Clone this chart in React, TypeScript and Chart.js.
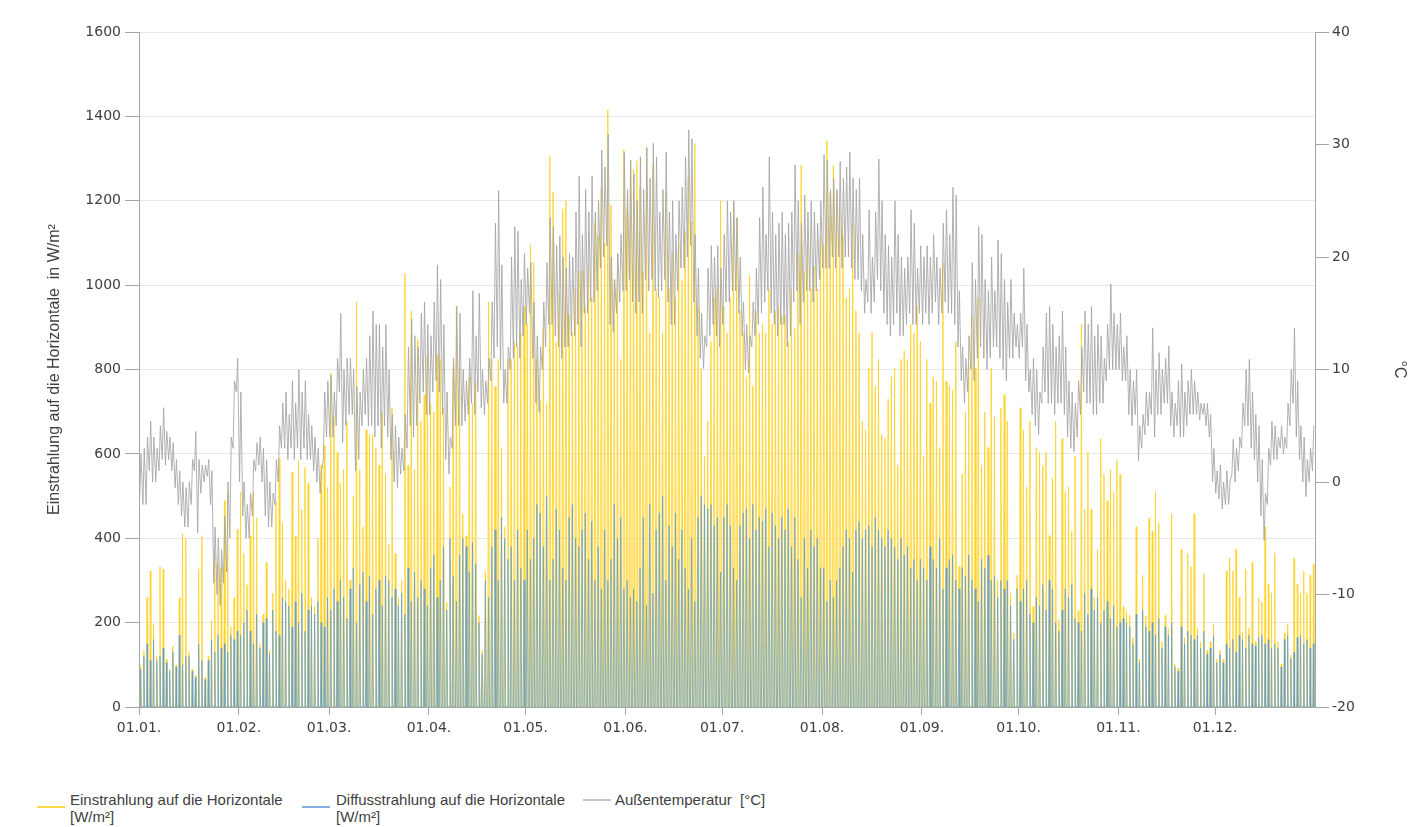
import React, { useEffect, useRef } from "react";
import { Chart, registerables } from "chart.js";

Chart.register(...registerables);

// ---- categories / tick labels ----
const monthStarts = [0, 31, 59, 90, 120, 151, 181, 212, 243, 273, 304, 334];
const monthLabels = ["01.01.", "01.02.", "01.03.", "01.04.", "01.05.", "01.06.", "01.07.", "01.08.", "01.09.", "01.10.", "01.11.", "01.12."];
const yearDays = 365;
// sunrise / sunset (hour of day, standard time) per month
const sunriseHour = [8.1, 7.5, 6.6, 5.5, 4.6, 4.1, 4.3, 5.0, 5.8, 6.6, 7.4, 8.0];
const sunsetHour = [16.4, 17.2, 18.0, 18.9, 19.8, 20.4, 20.4, 19.7, 18.6, 17.5, 16.5, 16.1];

// ---- daily peak of global horizontal irradiance [W/m²] ----
const globalJan = [100, 134, 260, 322, 197, 120, 332, 327, 113, 90, 144, 100, 259, 411, 400, 130, 90, 75, 327, 406, 70, 120, 207, 364, 340, 330, 489, 510, 190, 260, 421];
const globalFeb = [510, 364, 290, 406, 510, 448, 150, 220, 343, 134, 270, 489, 589, 437, 300, 280, 557, 406, 584, 468, 568, 530, 260, 240, 400, 573, 620, 520];
const globalMar = [792, 688, 604, 531, 563, 678, 301, 500, 960, 563, 427, 657, 646, 646, 615, 573, 699, 552, 385, 709, 364, 259, 300, 1028, 573, 939, 563, 871, 678, 740, 835];
const globalApr = [720, 699, 835, 824, 709, 249, 521, 803, 950, 803, 458, 406, 782, 720, 772, 217, 134, 322, 960, 824, 760, 824, 615, 427, 824, 824, 866, 855, 887, 950];
const globalMay = [908, 1096, 1054, 824, 730, 900, 720, 1305, 1221, 866, 980, 1180, 1200, 929, 887, 991, 1033, 1033, 950, 1054, 970, 1148, 1117, 1232, 1100, 1415, 1190, 1012, 1075, 824, 1321];
const globalJun = [1180, 1263, 1274, 1295, 1232, 1033, 1328, 887, 1284, 991, 970, 887, 1221, 991, 1075, 970, 1096, 1012, 1127, 1253, 1150, 1336, 950, 803, 594, 678, 866, 970, 991, 1200];
const globalJul = [950, 887, 970, 1200, 1159, 939, 887, 782, 1023, 761, 939, 887, 908, 887, 991, 908, 939, 950, 929, 929, 866, 991, 897, 1075, 1284, 1033, 1096, 991, 1044, 991, 1117];
const globalAug = [1096, 1342, 1221, 1284, 1221, 1180, 1117, 970, 991, 1148, 939, 887, 678, 657, 803, 887, 761, 824, 646, 636, 730, 782, 803, 573, 824, 845, 824, 908, 887, 950, 866];
const globalSep = [594, 824, 720, 782, 772, 615, 1054, 772, 761, 751, 866, 333, 552, 699, 814, 929, 803, 970, 573, 699, 615, 803, 688, 301, 709, 740, 678, 270, 176, 312];
const globalOct = [709, 657, 521, 678, 238, 615, 604, 573, 604, 406, 542, 678, 207, 636, 510, 521, 416, 594, 228, 908, 469, 604, 469, 259, 374, 636, 552, 489, 563, 510, 584];
const globalNov = [552, 238, 228, 217, 165, 427, 113, 312, 217, 448, 416, 510, 437, 155, 217, 186, 458, 102, 92, 374, 165, 364, 333, 458, 186, 155, 317, 134, 155, 197];
const globalDec = [113, 134, 113, 322, 353, 322, 374, 259, 176, 327, 186, 343, 155, 259, 249, 427, 291, 270, 364, 155, 102, 176, 197, 123, 353, 291, 270, 322, 270, 312, 338];

// ---- daily peak of diffuse horizontal irradiance [W/m²] ----
const diffuseJan = [90, 120, 150, 110, 160, 110, 120, 140, 105, 85, 130, 95, 170, 100, 120, 120, 85, 70, 150, 110, 65, 110, 160, 130, 170, 140, 150, 130, 170, 160, 180];
const diffuseFeb = [170, 200, 230, 180, 150, 220, 140, 200, 210, 125, 230, 180, 170, 260, 250, 240, 190, 250, 200, 270, 180, 230, 240, 220, 250, 200, 190, 260];
const diffuseMar = [230, 280, 250, 300, 260, 210, 280, 330, 200, 290, 320, 250, 310, 220, 280, 300, 240, 310, 300, 260, 280, 240, 270, 220, 330, 250, 320, 260, 300, 280, 240];
const diffuseApr = [330, 360, 260, 300, 380, 230, 400, 310, 250, 360, 400, 380, 320, 390, 340, 200, 125, 300, 260, 380, 420, 300, 450, 400, 350, 380, 300, 420, 330, 300];
const diffuseMay = [420, 350, 400, 480, 460, 380, 500, 300, 350, 470, 420, 330, 300, 450, 480, 400, 380, 420, 460, 350, 440, 300, 380, 280, 420, 300, 350, 480, 400, 450, 280];
const diffuseJun = [300, 260, 280, 250, 330, 450, 240, 480, 270, 420, 460, 500, 300, 430, 380, 460, 350, 420, 330, 280, 400, 250, 450, 500, 480, 470, 480, 430, 450, 320];
const diffuseJul = [450, 480, 430, 330, 300, 430, 460, 470, 400, 480, 420, 450, 440, 470, 380, 460, 430, 400, 450, 420, 470, 380, 450, 350, 260, 400, 330, 420, 380, 400, 330];
const diffuseAug = [330, 250, 300, 260, 300, 330, 380, 420, 400, 320, 420, 440, 400, 420, 430, 380, 450, 420, 400, 380, 420, 400, 380, 350, 400, 360, 380, 330, 350, 300, 350];
const diffuseSep = [330, 300, 380, 350, 330, 400, 280, 330, 350, 360, 300, 280, 330, 310, 360, 300, 280, 250, 350, 330, 360, 300, 310, 260, 300, 280, 300, 240, 160, 280];
const diffuseOct = [250, 280, 300, 220, 200, 260, 240, 290, 230, 300, 280, 200, 180, 230, 280, 260, 290, 210, 200, 180, 270, 220, 280, 230, 260, 200, 230, 250, 210, 240, 190];
const diffuseNov = [200, 210, 200, 190, 150, 220, 105, 230, 190, 180, 200, 170, 210, 140, 190, 170, 200, 95, 85, 190, 150, 180, 170, 160, 170, 140, 180, 125, 140, 170];
const diffuseDec = [105, 125, 105, 150, 140, 160, 130, 170, 160, 140, 170, 150, 145, 165, 170, 150, 160, 140, 150, 140, 95, 160, 170, 115, 130, 165, 170, 150, 160, 140, 150];

// ---- outdoor temperature, daily max / min [°C] ----
const tMaxJan = [2.5, 3, 4, 5.4, 4, 3, 5, 6.6, 4.5, 4, 3.5, 2, 1, 0, -0.5, 0, 2, 4.5, 2, 1.5, 1.5, 2, 1, -4, -5, -6, -3, 0, 4, 9, 11];
const tMinJan = [-1.5, -2, -2, 1, 0, 0, 1, 2, 1.5, 2, 1, -0.5, -2, -3, -4, -4, -2, 1, -4.5, -1, 0, 0.5, -2, -9, -10, -11, -9, -8, -5, 3, 8];
const tMaxFeb = [8, 0, -2, -1, 2, 3.5, 4, 3, 2, 0, -1, 2, 5, 7, 8, 6, 9, 7, 10, 8, 9, 6, 5, 4, 3, 1, 8, 9];
const tMinFeb = [0, -3, -5, -5, -3, 1, 1.5, 0, -3, -4, -4, -2, 0, 3, 3, 2, 3, 2, 3, 2, 3, 2, 2, 1, 0, -1, 2, 4];
const tMaxMar = [9.5, 8, 11, 15, 10, 11, 11, 10, 8.5, 8, 10, 11, 13, 15.2, 14, 14, 12, 14, 10, 6, 5, 4, 3, 6, 12, 14.5, 13, 12, 15, 16, 14];
const tMinMar = [4, 4, 5, 8, 3.5, 5, 6, 6, 1, 2, 5, 6, 5, 5, 4, 5, 3, 5, 4, 2, 0, -0.5, 0.7, 1, 3, 5, 4, 5, 7, 8, 6];
const tMaxApr = [13, 16, 19.3, 18, 14, 8, 4, 11, 15.6, 15, 10, 9, 11, 17, 13, 16.8, 10, 9, 11, 16, 23, 25.9, 19.3, 10, 12, 20, 22.7, 22.3, 18, 20.3];
const tMinApr = [6, 8, 9, 8, 6, 2, 0.7, 3, 5, 5, 5, 5.4, 6, 7, 6, 8, 6.6, 6, 7, 9, 11, 12, 10, 7, 7, 10, 11, 12, 11, 13];
const tMaxMay = [19, 19.5, 16, 13, 12, 16, 19.5, 23.5, 22.7, 21, 21.9, 20, 19, 20.3, 20, 24, 27.2, 22, 26, 24, 27.2, 24, 25, 29.5, 28, 30.9, 20, 18, 20.3, 22, 29.3];
const tMinMay = [14, 15, 11, 7, 6.2, 10, 12, 14, 14, 13, 12, 11, 12, 12, 13, 13, 14, 12, 15, 15, 16, 16, 17, 19, 20, 21, 14, 13.3, 15, 16, 17];
const tMaxJun = [26, 28.6, 27.4, 25, 28.9, 26, 29.7, 27, 30.1, 28.9, 24, 26, 29.3, 24, 25, 22, 25, 26.2, 28.9, 31.3, 30.5, 22, 19, 15, 13, 19, 21, 20, 21, 19];
const tMinJun = [17, 18, 16, 15, 16, 15, 18, 17, 18, 17, 16.4, 17, 18, 16, 14, 14, 17, 19, 19, 20, 21, 16, 13, 11, 10.1, 12, 13, 14, 13, 12];
const tMaxJul = [22, 25, 24, 25, 23.5, 20, 16, 14, 13, 16, 19, 23.5, 26.2, 22, 28.9, 24, 22, 23, 24, 22, 23, 24, 28.2, 25, 23, 25.5, 24, 25, 24, 23, 25];
const tMinJul = [14, 16, 16, 17, 17, 15, 13, 10, 9.7, 12, 13, 14, 15, 16, 17, 15, 14, 13, 14, 14, 12, 13, 16, 17, 14, 16, 17, 17, 16, 17, 18];
const tMaxAug = [29.1, 28.6, 26, 27, 26, 28.5, 27, 28, 29.3, 27, 26, 27, 22, 18, 24.2, 20, 24, 28.7, 25, 22, 21, 20, 25, 22, 20, 19, 20, 24.2, 23, 19, 21];
const tMinAug = [19, 19, 19, 20, 19, 20, 19, 20, 20, 19, 18, 18, 17, 15, 16, 15, 16, 18, 17, 15, 14, 13, 14, 15, 13, 13, 14, 15, 14, 14, 15];
const tMaxSep = [20, 21, 20, 22, 20, 19, 23, 24.2, 22, 26.2, 25.5, 17, 12, 11, 13, 19.5, 18, 22.7, 22, 18, 17, 20, 17, 21.5, 20.3, 18, 16, 18, 15, 14];
const tMinSep = [14, 15, 14, 15, 16, 14, 15, 16, 15, 15, 14, 12, 9, 7, 8, 10, 9, 11, 12, 11, 10, 11, 12, 12, 11, 10, 9, 11, 11, 12];
const tMaxOct = [15, 19, 14, 10, 11, 10, 8, 12, 15, 15.6, 14, 12, 13, 15.2, 12, 9, 8, 7, 9, 12, 15.2, 14, 15.6, 13, 14, 13, 11, 14, 17.6, 15, 14];
const tMinOct = [11, 12, 9, 8, 6, 5, 4.2, 7, 8, 7, 7, 6, 7, 7, 6, 4, 3, 2.7, 4, 6, 8, 7, 7, 6, 6, 7, 7, 9, 10, 10, 10];
const tMaxNov = [15, 12, 13, 10, 9, 10, 5, 6, 8, 8, 13.7, 10, 11.5, 10, 11, 12.1, 8, 7, 9, 10.5, 8, 9, 10, 9, 8, 7, 7, 7, 6, 3];
const tMinNov = [10, 9, 9, 6, 5, 6, 1.9, 3, 4.2, 5, 6, 4, 6, 6, 7, 7, 5, 4, 5, 4, 4, 5, 6, 6, 6, 5.5, 6, 5, 4, 0];
const tMaxDec = [1, 1.5, 0, 1, 0, 3.8, 3, 4, 7, 10, 10.9, 8, 6, 5, 2, -1, 3, 5.4, 5, 4, 5, 4, 7, 10, 13.7, 9, 5, 4, 2, 3, 5];
const tMinDec = [-1, -1.5, -2.4, -2, -2, 0.7, 0, 1, 3, 5, 5, 3, 2, 0, -3, -5.2, -2, 1.5, 2, 2, 3, 2.5, 3, 5, 7, 4, 2, 0, -1.3, 0, 1];

const globalPeak = [...globalJan, ...globalFeb, ...globalMar, ...globalApr, ...globalMay, ...globalJun, ...globalJul, ...globalAug, ...globalSep, ...globalOct, ...globalNov, ...globalDec];
const diffusePeak = [...diffuseJan, ...diffuseFeb, ...diffuseMar, ...diffuseApr, ...diffuseMay, ...diffuseJun, ...diffuseJul, ...diffuseAug, ...diffuseSep, ...diffuseOct, ...diffuseNov, ...diffuseDec];
const tempMax = [...tMaxJan, ...tMaxFeb, ...tMaxMar, ...tMaxApr, ...tMaxMay, ...tMaxJun, ...tMaxJul, ...tMaxAug, ...tMaxSep, ...tMaxOct, ...tMaxNov, ...tMaxDec];
const tempMin = [...tMinJan, ...tMinFeb, ...tMinMar, ...tMinApr, ...tMinMay, ...tMinJun, ...tMinJul, ...tMinAug, ...tMinSep, ...tMinOct, ...tMinNov, ...tMinDec];

function monthOf(day: number) {
  let m = 0;
  for (let i = 0; i < monthStarts.length; i++) if (day >= monthStarts[i]) m = i;
  return m;
}

function solarSeries(peaks: number[]) {
  const pts: { x: number; y: number }[] = [];
  peaks.forEach((p, d) => {
    const m = monthOf(d);
    const sr = sunriseHour[m];
    const ss = sunsetHour[m];
    pts.push({ x: d + sr / 24, y: 0 });
    pts.push({ x: d + (sr + ss) / 48, y: p });
    pts.push({ x: d + ss / 24, y: 0 });
  });
  return pts;
}

function tempSeries() {
  const pts: { x: number; y: number }[] = [];
  tempMax.forEach((mx, d) => {
    pts.push({ x: d + 5 / 24, y: tempMin[d] });
    pts.push({ x: d + 15 / 24, y: mx });
  });
  return pts;
}

const W = 1417;
const H = 760;
const axisGray = "#a6a6a6";
const textGray = "#404040";
const tickFont = { family: "'DejaVu Sans', sans-serif", size: 14 };

export default function App() {
  const ref = useRef<HTMLCanvasElement | null>(null);

  useEffect(() => {
    if (!ref.current) return;
    const chart = new Chart(ref.current, {
      type: "line",
      data: {
        datasets: [
          {
            label: "Außentemperatur [°C]",
            data: tempSeries(),
            yAxisID: "y1",
            borderColor: "rgba(165,165,165,0.85)",
            borderWidth: 1,
            pointRadius: 0,
            fill: false,
            order: 1,
          },
          {
            label: "Diffusstrahlung auf die Horizontale [W/m²]",
            data: solarSeries(diffusePeak),
            yAxisID: "y",
            borderColor: "rgba(91,155,213,0.65)",
            backgroundColor: "rgba(150,190,232,0.32)",
            borderWidth: 1,
            pointRadius: 0,
            fill: "origin",
            order: 2,
          },
          {
            label: "Einstrahlung auf die Horizontale [W/m²]",
            data: solarSeries(globalPeak),
            yAxisID: "y",
            borderColor: "rgba(255,210,40,0.85)",
            backgroundColor: "rgba(255,222,90,0.42)",
            borderWidth: 1,
            pointRadius: 0,
            fill: "origin",
            order: 3,
          },
        ],
      },
      options: {
        responsive: false,
        animation: false,
        devicePixelRatio: 1,
        parsing: false,
        normalized: true,
        layout: { padding: { top: 32, left: 0, right: 0, bottom: 0 } },
        plugins: { legend: { display: false }, tooltip: { enabled: false } },
        scales: {
          x: {
            type: "linear",
            min: 0,
            max: yearDays,
            afterBuildTicks: (scale: any) => {
              scale.ticks = monthStarts.map((v) => ({ value: v }));
            },
            afterFit: (scale: any) => {
              scale.height = H - 707;
            },
            ticks: {
              autoSkip: false,
              maxRotation: 0,
              font: tickFont,
              color: textGray,
              padding: 5,
              callback: (v: any) => monthLabels[monthStarts.indexOf(Number(v))] ?? "",
            },
            grid: { drawOnChartArea: false, drawTicks: true, tickLength: 8, tickColor: axisGray },
            border: { color: axisGray },
          },
          y: {
            position: "left",
            min: 0,
            max: 1600,
            afterFit: (scale: any) => {
              scale.width = 139;
            },
            ticks: { stepSize: 200, font: tickFont, color: textGray, padding: 4, callback: (v: any) => String(v) },
            grid: { color: "#e8e8e8", tickLength: 14, tickColor: axisGray },
            border: { color: axisGray },
            title: {
              display: true,
              text: "Einstrahlung auf die Horizontale  in W/m²",
              font: { family: "'Liberation Sans', Arial, sans-serif", size: 16 },
              color: textGray,
              padding: { top: 45, bottom: 0 },
            },
          },
          y1: {
            position: "right",
            min: -20,
            max: 40,
            afterFit: (scale: any) => {
              scale.width = W - 1315;
            },
            ticks: { stepSize: 10, font: tickFont, color: textGray, padding: 3, callback: (v: any) => String(v) },
            grid: { drawOnChartArea: false, tickLength: 14, tickColor: axisGray },
            border: { color: axisGray },
            title: {
              display: true,
              text: "°C",
              font: { family: "'Liberation Sans', Arial, sans-serif", size: 16 },
              color: textGray,
              padding: { top: 8, bottom: 0 },
            },
          },
        },
      },
    } as any);
    return () => chart.destroy();
  }, []);

  const legendText: React.CSSProperties = {
    position: "absolute",
    fontFamily: "'Liberation Sans', Arial, sans-serif",
    fontSize: 15,
    lineHeight: "17px",
    color: "#404040",
    whiteSpace: "nowrap",
  };
  const swatch = (left: number, top: number, color: string): React.CSSProperties => ({
    position: "absolute",
    left,
    top,
    width: 28,
    height: 2,
    background: color,
  });

  return (
    <div style={{ position: "absolute", left: 0, top: 0, width: W, height: 827, background: "#fff", overflow: "hidden" }}>
      <canvas ref={ref} width={W} height={H} style={{ position: "absolute", left: 0, top: 0, width: W, height: H }} />
      <div style={swatch(37, 806, "#FFD84A")} />
      <div style={{ ...legendText, left: 70, top: 791 }}>
        Einstrahlung auf die Horizontale
        <br />
        [W/m²]
      </div>
      <div style={swatch(302, 806, "#7FB0E0")} />
      <div style={{ ...legendText, left: 336, top: 791 }}>
        Diffusstrahlung auf die Horizontale
        <br />
        [W/m²]
      </div>
      <div style={swatch(583, 799, "#c8c8c8")} />
      <div style={{ ...legendText, left: 615, top: 791 }}>Außentemperatur&nbsp;&nbsp;[°C]</div>
    </div>
  );
}
